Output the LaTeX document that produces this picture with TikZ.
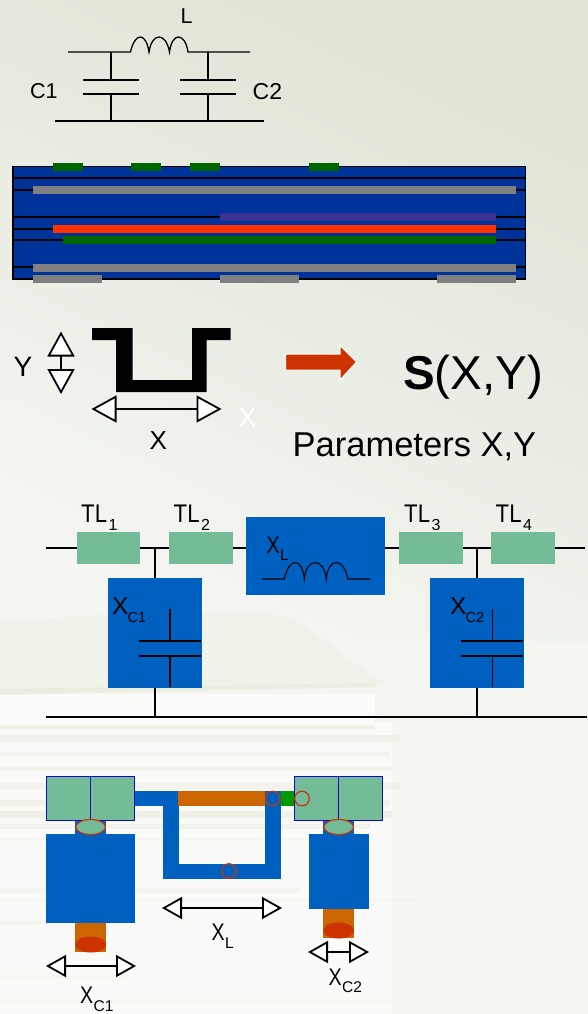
\documentclass[tikz,border=0pt]{standalone}
\usepackage{fontspec}
\usepackage{graphicx}
\setmainfont{Liberation Sans}
\usetikzlibrary{arrows.meta,calc}
\definecolor{stackblue}{HTML}{003399}
\definecolor{padgreen}{HTML}{006600}
\definecolor{metalgray}{HTML}{808080}
\definecolor{layerpurple}{HTML}{3A3196}
\definecolor{hotred}{HTML}{FF3300}
\definecolor{arrowred}{HTML}{CC3300}
\definecolor{tlgreen}{HTML}{74BC98}
\definecolor{boxblue}{HTML}{0060C0}
\definecolor{stuborange}{HTML}{CC6600}
\definecolor{linkgreen}{HTML}{009900}
\definecolor{cellblue}{HTML}{0A0AD0}
\definecolor{bgtop}{HTML}{DFE4D5}
\definecolor{bgmid}{HTML}{F5F6F2}
\definecolor{bgband}{HTML}{E2E8D0}
\definecolor{bgpale}{HTML}{EEF1E6}
\newcommand{\fsz}[1]{\fontsize{#1}{#1}\selectfont}
% condensed letter(s) on a box of the given width, then a lowered subscript
\newcommand{\subtl}[2]{\makebox[27.5pt][l]{\scalebox{.87}[1]{\fsz{25.5}#1}}\raisebox{-7.5pt}{\fsz{16}#2}}
\newcommand{\subxa}[1]{{\fsz{24.5}X}\kern-.8pt\raisebox{-8pt}{\fsz{14.5}#1}}
\newcommand{\subxb}[1]{\makebox[13.5pt][l]{\scalebox{.82}[1]{\fsz{24}X}}\raisebox{-7.5pt}{\fsz{15.5}#1}}
\tikzset{
  x=1pt,y=-1pt,
  wire/.style={draw=black,line width=1.3pt},
  thin wire/.style={draw=black,line width=1.1pt},
  lbl/.style={inner sep=0pt,anchor=base west,text=black,font=\fsz{21.5}},
  tlbox/.style={fill=tlgreen,draw=none,inner sep=0pt,outer sep=0pt,minimum width=63.5pt,minimum height=32.5pt},
  cellbox/.style={fill=tlgreen,draw=cellblue,line width=1.4pt,inner sep=0pt,outer sep=0pt,minimum width=44pt,minimum height=43.5pt},
  bluebox/.style={fill=boxblue,draw=none,inner sep=0pt,outer sep=0pt},
  dim/.style={draw=black,line width=1.3pt,{Triangle[open,fill=white,length=20pt,width=22pt,line width=1.8pt]}-{Triangle[open,fill=white,length=20pt,width=22pt,line width=1.8pt]}},
  dimbig/.style={draw=black,line width=1.3pt,{Triangle[open,fill=white,length=25pt,width=27pt,line width=1.8pt]}-{Triangle[open,fill=white,length=25pt,width=27pt,line width=1.8pt]}},
}
\begin{document}
\begin{tikzpicture}
\useasboundingbox (0,0) rectangle (587,1014);
% background
\fill[bgmid] (-1,-1) rectangle (588,1015);
\shade[top color=bgtop, bottom color=bgmid, shading angle=-25] (-1,-1) rectangle (588,640);
\fill[bgpale,opacity=.55] (0,622) .. controls (120,612) and (240,606) .. (290,618) .. controls (330,640) and (360,670) .. (385,683) -- (0,692) -- cycle;
\fill[white,opacity=.7] (0,694) rectangle (375,722);
\fill[bgband,opacity=.5] (0,689) -- (375,683) -- (375,687) -- (0,695) -- cycle;
\fill[white,opacity=.55] (0,722) rectangle (392,1014);
\foreach \yy/\hh/\xe/\oo in {725/4/375/.4,735/7/400/.35,752/4/390/.25,767/4/392/.3,783/6/400/.3,800/6/390/.35,811/7/392/.4,824/5/370/.35,838/3/360/.2,888/5/300/.25,898/3/420/.15,921/3/120/.25,975/4/130/.2,1000/3/392/.12}{
  \fill[bgband,opacity=\oo] (0,\yy) rectangle (\xe,\yy+\hh);
}
% ---- lumped circuit
\coordinate (p1) at (68,52); \coordinate (p4) at (250,52);
\coordinate (g1) at (55,121); \coordinate (g2) at (264,121);
\draw[wire] (p1) -- (130.5,52)
  .. controls (135,32) and (146,32) .. (149,52)
  .. controls (152,32) and (166,32) .. (169.5,52)
  .. controls (172,32) and (185,32) .. (188,52) -- (p4);
\draw[wire] (g1) -- (g2);
\foreach \xx in {111,208}{
  \draw[wire] (\xx,52) -- (\xx,80) (\xx-28,80) -- (\xx+28,80)
              (\xx-28,94) -- (\xx+28,94) (\xx,94) -- (\xx,121);
}
\node[lbl] (tL) at (180.5,23.5) {L};
\node[lbl] (tC1) at (30,98.5) {C1};
\node[lbl,font=\fsz{23}] (tC2) at (252.5,100) {C2};
% ---- layer stack
\fill[stackblue] (13,166.5) rectangle (525.5,279);
\draw[black,line width=1.8pt] (13,166.5) rectangle (525.5,279);
\foreach \yy in {178,190,217,229,240,267}{ \draw[black,line width=1.7pt] (13,\yy) -- (525.5,\yy); }
\foreach \xa in {53,131,190,309}{ \fill[padgreen] (\xa,163) rectangle (\xa+30,171); }
\fill[metalgray] (33,186) rectangle (515.5,194);
\fill[layerpurple] (220,213) rectangle (495.5,221);
\fill[hotred] (53,225) rectangle (495.5,233);
\fill[padgreen] (63,236) rectangle (495.5,244);
\fill[metalgray] (33,263.5) rectangle (515.5,271.5);
\fill[metalgray] (33,275) rectangle (102,283);
\fill[metalgray] (220,275) rectangle (299,283);
\fill[metalgray] (437,275) rectangle (515.5,283);
% ---- parameterised U
\fill[black] (92,328) -- (132.5,328) -- (132.5,380) -- (192,380) -- (192,328) -- (230.5,328) -- (230.5,340) -- (206.5,340) -- (206.5,392) -- (116,392) -- (116,340) -- (92,340) -- cycle;
\coordinate (ya) at (61,331.5); \coordinate (yb) at (61,394);
\draw[dimbig] (ya) -- (yb);
\coordinate (xa) at (91.5,409); \coordinate (xb) at (221.5,409);
\draw[dimbig] (xa) -- (xb);
\node[lbl,font=\fsz{28}] (tY) at (13.5,376) {Y};
\node[lbl,font=\fsz{26}] (tX) at (149.5,449) {X};
\node[lbl,font=\fsz{28},text=white] (tXw) at (238,427) {X};
\fill[arrowred,draw=white,line width=1pt] (285.7,354) -- (340,354) -- (340,345.5) -- (356.5,362) -- (340,380) -- (340,370) -- (285.7,370) -- cycle;
\node[lbl,font=\fsz{47.5}] (tS) at (403,389.3) {\textbf{S}(X,Y)};
\node[lbl,font=\fsz{34.5}] (tP) at (292.5,456.7) {Parameters X,Y};
% ---- T-line circuit
\node[tlbox,anchor=north west] (TL1) at (76.5,531.75) {};
\node[tlbox,anchor=north west] (TL2) at (169,531.75) {};
\node[tlbox,anchor=north west] (TL3) at (399,531.75) {};
\node[tlbox,anchor=north west] (TL4) at (491,531.75) {};
\node[bluebox,anchor=north west,minimum width=139pt,minimum height=78pt] (XL) at (246,517) {};
\node[bluebox,anchor=north west,minimum width=94pt,minimum height=109.5pt] (XC1) at (107.5,578) {};
\node[bluebox,anchor=north west,minimum width=94pt,minimum height=109.5pt] (XC2) at (430,578) {};
\coordinate (w0) at (46,548); \coordinate (w5) at (585,548);
\coordinate (gl) at (46,717); \coordinate (gr) at (587,717);
\coordinate (j1) at (155,548); \coordinate (j2) at (477,548);
\coordinate (g3) at (155,717); \coordinate (g4) at (477,717);
\draw[wire] (w0) -- (TL1.west) (TL1.east) -- (TL2.west) (TL2.east) -- (XL.west|-w0)
  (XL.east|-w0) -- (TL3.west) (TL3.east) -- (TL4.west) (TL4.east) -- (w5);
\draw[wire] (gl) -- (gr);
\draw[wire] (j1) -- (XC1.north-|j1) (XC1.south-|j1) -- (g3);
\draw[wire] (j2) -- (XC2.north-|j2) (XC2.south-|j2) -- (g4);
\foreach \xx/\xl/\xr in {170/138.5/201,492.7/461/523}{
  \draw[wire] (\xx,609) -- (\xx,641) (\xl,641) -- (\xr,641)
    (\xl,656) -- (\xr,656) (\xx,656) -- (\xx,687);
}
\draw[thin wire] (262,579) -- (284.3,579)
  .. controls (289,557) and (302,557) .. (304.3,579)
  .. controls (306,557) and (324,557) .. (326.3,579)
  .. controls (328,557) and (344,557) .. (347.7,579) -- (370,579);
\node[lbl] (tTL1) at (81,522.5) {\subtl{TL}{1}};
\node[lbl] (tTL2) at (173.5,522.5) {\subtl{TL}{2}};
\node[lbl] (tTL3) at (404,522.5) {\subtl{TL}{3}};
\node[lbl] (tTL4) at (495.5,522.5) {\subtl{TL}{4}};
\node[lbl] (tXL) at (266.5,553.3) {\subxb{L}};
\node[lbl] (tXC1) at (112,614.3) {\subxa{C1}};
\node[lbl] (tXC2) at (450,614.3) {\subxa{C2}};
% ---- layout
\fill[boxblue] (134,790.5) rectangle (178.5,806);
\fill[boxblue] (163,790.5) rectangle (178.5,879);
\fill[boxblue] (163,863.5) rectangle (281,879);
\fill[boxblue] (265,790.5) rectangle (281,879);
\fill[stuborange] (178,790.5) rectangle (265,806);
\fill[linkgreen] (281,790.5) rectangle (295,806);
\foreach \cx/\bl/\br/\bb/\ob in {90.7/46/135/923/952,338.7/308.5/368.5/909/938}{
  \fill[boxblue] (\cx-15.5,820) rectangle (\cx+15.5,836);
  \fill[boxblue] (\bl,834) rectangle (\br,\bb);
  \fill[stuborange] (\cx-15.5,\bb) rectangle (\cx+15.5,\ob);
  \fill[arrowred] (\cx,\ob-7.5) ellipse [x radius=15.5, y radius=8];
}
\node[cellbox,anchor=north west] (c1) at (46.7,776.7) {};
\node[cellbox,anchor=north west] (c2) at (90.7,776.7) {};
\node[cellbox,anchor=north west] (c3) at (294.7,776.7) {};
\node[cellbox,anchor=north west] (c4) at (338.7,776.7) {};
\foreach \cx in {90.7,338.7}{
  \draw[arrowred,fill=tlgreen,line width=1.2pt] (\cx,827) ellipse [x radius=14.8, y radius=7.5];
}
\draw[arrowred,line width=1.2pt] (272.7,798.5) circle [radius=7.3];
\draw[arrowred,line width=1.2pt] (302,798.5) circle [radius=7.3];
\draw[arrowred,line width=1.2pt] (229,871) circle [radius=7.3];
\coordinate (d1a) at (46,966); \coordinate (d1b) at (136,966);
\coordinate (d2a) at (162,908); \coordinate (d2b) at (282,908);
\coordinate (d3a) at (308,952); \coordinate (d3b) at (369,952);
\draw[dim] (d1a) -- (d1b);
\draw[dim] (d2a) -- (d2b);
\draw[dim] (d3a) -- (d3b);
\node[lbl] (tb1) at (80,1003.5) {\subxb{C1}};
\node[lbl] (tb2) at (211.5,940.5) {\subxb{L}};
\node[lbl] (tb3) at (328.5,985.3) {\subxb{C2}};
\end{tikzpicture}
\end{document}
